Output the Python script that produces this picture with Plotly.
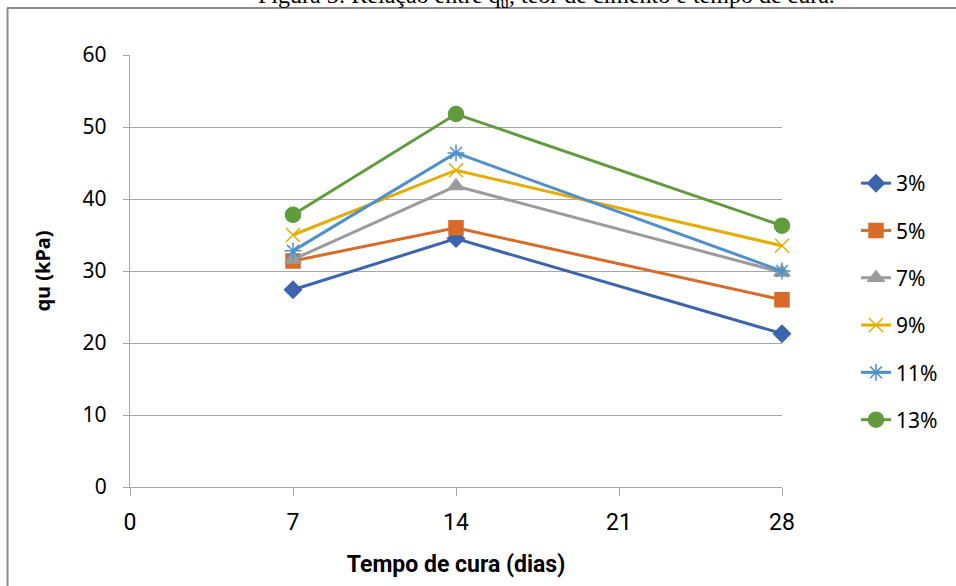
import plotly.graph_objects as go

# Curing time (days) and unconfined compressive strength qu (kPa) per cement content
dias = [7, 14, 28]
teores = ["3%", "5%", "7%", "9%", "11%", "13%"]
qu_3 = [27.4, 34.5, 21.3]
qu_5 = [31.4, 36.0, 26.0]
qu_7 = [31.6, 41.8, 29.8]
qu_9 = [35.0, 44.0, 33.5]
qu_11 = [32.8, 46.4, 30.0]
qu_13 = [37.8, 51.8, 36.3]
x_ticks = [0, 7, 14, 21, 28]
y_ticks = [0, 10, 20, 30, 40, 50, 60]

series = [qu_3, qu_5, qu_7, qu_9, qu_11, qu_13]
colors = ["#3D64AF", "#D86B29", "#9B9B9B", "#E6AD00", "#4E8FCC", "#609C3C"]
symbols = ["diamond", "square", "triangle-up", "x-thin-open", "asterisk-open", "circle"]
sizes = [13, 14, 14, 14, 14, 15]

W, H = 956, 586
L, R, T, B = 130, 174, 55, 99
pw, ph = W - L - R, H - T - B


def px_x(px):
    return (px - L) / pw


def px_y(py):
    return (H - B - py) / ph


fig = go.Figure()
for name, vals, c, s, sz in zip(teores, series, colors, symbols, sizes):
    fig.add_trace(go.Scatter(
        x=dias, y=vals, name=name, mode="lines+markers",
        line=dict(color=c, width=3),
        marker=dict(symbol=s, size=sz, color=c, line=dict(color=c, width=1.5)),
        cliponaxis=False, legendgroup=name,
    ))

axis_col = "#A6A6A6"
fig.update_layout(
    width=W, height=H,
    margin=dict(l=L, r=R, t=T, b=B, autoexpand=False),
    paper_bgcolor="white", plot_bgcolor="white",
    showlegend=True,
    legend=dict(
        x=px_x(856), xanchor="left", y=px_y(163), yanchor="top",
        font=dict(family="Noto Sans, Open Sans, sans-serif", size=21, color="#000"),
        tracegroupgap=17, bgcolor="rgba(0,0,0,0)", borderwidth=0,
    ),
    xaxis=dict(
        range=[0, 28], tickvals=x_ticks, ticktext=[str(v) for v in x_ticks],
        showgrid=False, zeroline=False, showline=True, linecolor=axis_col, linewidth=1.3,
        ticks="outside", ticklen=8, tickcolor=axis_col, tickwidth=1.3,
        ticklabelstandoff=6,
        tickfont=dict(family="Liberation Sans Narrow, Roboto, sans-serif", size=23, color="#000"),
        title=dict(text="<b>Tempo de cura (dias)</b>", standoff=21,
                   font=dict(family="Liberation Sans Narrow, Roboto, sans-serif", size=23, color="#000")),
        automargin=False,
    ),
    yaxis=dict(
        range=[0, 60], tickvals=y_ticks,
        showgrid=True, gridcolor=axis_col, gridwidth=1.3,
        zeroline=False, showline=True, linecolor=axis_col, linewidth=1.3,
        ticks="outside", ticklen=6, tickcolor=axis_col, tickwidth=1.3,
        ticklabelstandoff=12,
        tickfont=dict(family="Noto Sans, Open Sans, sans-serif", size=21, color="#000"),
        title=dict(text="<b>qu (kPa)</b>", standoff=26,
                   font=dict(family="Noto Sans, Open Sans, sans-serif", size=20, color="#000")),
        automargin=False,
    ),
    shapes=[
        dict(type="line", xref="paper", yref="paper",
             x0=px_x(7.5), x1=px_x(7.5), y0=px_y(8), y1=px_y(H + 2),
             line=dict(color="#8C8C8C", width=2)),
        dict(type="line", xref="paper", yref="paper",
             x0=px_x(7), x1=px_x(W + 2), y0=px_y(8), y1=px_y(8),
             line=dict(color="#8C8C8C", width=2)),
    ],
    annotations=[
        dict(text="Figura 3: Relação entre q<sub>u</sub>, teor de cimento e tempo de cura.",
             xref="paper", yref="paper", x=px_x(546), y=px_y(12.5),
             xanchor="center", yanchor="bottom", showarrow=False, borderpad=0,
             font=dict(family="Liberation Serif, Times New Roman, serif", size=24, color="#000")),
    ],
)

fig.write_html("out.html")
